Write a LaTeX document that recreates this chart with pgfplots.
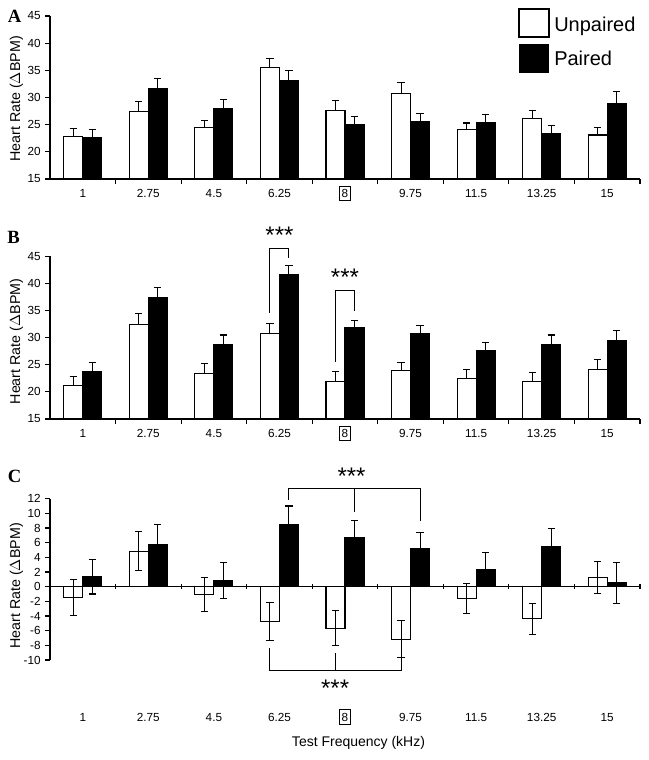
\documentclass[border=0pt]{standalone}
\usepackage{pgfplots}
\pgfplotsset{compat=1.18}
\usepackage{pgfplotstable}
\usepackage{fontspec}
\setmainfont{Liberation Sans}
\newfontfamily\serifbf{Liberation Serif}

\pgfplotstableread{
x u ue p pe
1 22.8 1.5 22.6 1.5
2 27.5 1.7 31.6 1.9
3 24.5 1.2 27.9 1.7
4 35.6 1.5 33.2 1.7
5 27.6 1.9 25.0 1.5
6 30.8 2.0 25.5 1.6
7 24.1 1.2 25.3 1.6
8 26.1 1.5 23.3 1.5
9 23.1 1.4 28.9 2.2
}\tabA

\pgfplotstableread{
x u ue p pe
1 21.1 1.8 23.8 1.6
2 32.4 2.0 37.4 1.8
3 23.4 1.8 28.7 1.8
4 30.8 1.9 41.7 1.7
5 21.9 1.8 31.8 1.4
6 23.9 1.6 30.7 1.5
7 22.5 1.6 27.7 1.5
8 21.9 1.7 28.7 1.8
9 24.2 1.7 29.4 2.0
}\tabB

\pgfplotstableread{
x u ue p pe
1 -1.5 2.45 1.35 2.35
2 4.85 2.65 5.8 2.7
3 -1.05 2.35 0.8 2.45
4 -4.75 2.55 8.5 2.5
5 -5.65 2.4 6.65 2.4
6 -7.15 2.5 5.15 2.3
7 -1.6 2.05 2.4 2.3
8 -4.4 2.1 5.5 2.4
9 1.25 2.2 0.5 2.75
}\tabC

\newcommand{\boxeight}{{\fboxsep=2pt\fboxrule=0.7pt\framebox[8.5pt]{8}}}

\tikzset{stars/.style={font=\fontsize{18}{18}\selectfont, inner sep=0pt}}

\pgfplotsset{
  base/.style={
    scale only axis, width=442.5pt, xmin=0.5, xmax=9.5,
    clip mode=individual,
    every tick/.style={line width=0.8pt, black},
    major tick length=3.5pt,
    xtick={1.5,2.5,...,9.5}, xticklabel={\mbox{}},
    extra x ticks={1,2,3,4,5,6,7,8,9},
    extra x tick labels={1,2.75,4.5,6.25,\boxeight,9.75,11.5,13.25,15},
    tick label style={font=\fontsize{8.8}{10}\selectfont},
    /pgf/number format/assume math mode=true,
    ybar, bar width=14.25pt,
  },
  noarrows/.style={axis line style={line width=0.8pt,-},
    every outer x axis line/.append style={-},
    every outer y axis line/.append style={-},
    every inner x axis line/.append style={-},
    every inner y axis line/.append style={-}},
  unp/.style={draw=black, fill=white, line width=0.8pt, bar shift=-7.125pt},
  pai/.style={draw=black, fill=black, line width=0.8pt, bar shift=7.125pt},
  eb/.style={error bars/.cd, y dir=#1, y explicit, error mark=-,
    error bar style={line width=0.8pt, black},
    error mark options={rotate=90, line width=0.8pt, mark size=2.7pt, black}},
}

\begin{document}
\begin{tikzpicture}[x=0.75pt,y=0.75pt]
\useasboundingbox (0,0) rectangle (649,760);

% ---------- Panel A
\begin{axis}[base, at={(37.5pt,435.75pt)}, anchor=south west, height=122.25pt,
  axis x line=bottom, axis y line=left, tick align=outside, noarrows,
  ymin=15, ymax=45, ytick={15,20,...,45},
  extra x tick style={major tick length=0pt, xticklabel style={anchor=base, yshift=-13.8pt}}]
\addplot[unp, eb=plus] table[x=x, y=u, y error=ue] {\tabA};
\addplot[pai, eb=plus] table[x=x, y=p, y error=pe] {\tabA};
\end{axis}

% ---------- Panel B
\begin{axis}[base, at={(37.5pt,255.75pt)}, anchor=south west, height=121.9pt,
  axis x line=bottom, axis y line=left, tick align=outside, noarrows,
  ymin=15, ymax=45, ytick={15,20,...,45},
  extra x tick style={major tick length=0pt, xticklabel style={anchor=base, yshift=-13.8pt}}]
\addplot[unp, eb=plus] table[x=x, y=u, y error=ue] {\tabB};
\addplot[pai, eb=plus] table[x=x, y=p, y error=pe] {\tabB};
\draw[line width=0.8pt] (axis cs:3.855,34.6) -- (axis cs:3.855,46.4) -- (axis cs:4.145,46.4) -- (axis cs:4.145,44.8);
\node[stars] at (axis cs:4,48.9) {***};
\draw[line width=0.8pt] (axis cs:4.855,25.6) -- (axis cs:4.855,38.8) -- (axis cs:5.145,38.8) -- (axis cs:5.145,35.0);
\node[stars] at (axis cs:5,41.1) {***};
\end{axis}

% ---------- Panel C
\begin{axis}[base, at={(37.5pt,75pt)}, anchor=south west, height=121pt,
  axis x line=middle, axis y line=left, tick align=outside, xtick align=center, noarrows,
  ymin=-10, ymax=12, ytick={-10,-8,...,12},
  yticklabels={-10,-8,-6,-4,-2,0,2,4,6,8,10,12},
  extra x tick style={major tick length=0pt, xticklabel style={anchor=base, yshift=-100.9pt}}]
\addplot[unp, eb=both] table[x=x, y=u, y error=ue] {\tabC};
\addplot[pai, eb=both] table[x=x, y=p, y error=pe] {\tabC};
\draw[line width=0.8pt] (axis cs:4.145,11.8) -- (axis cs:4.145,13.4) -- (axis cs:6.145,13.4) -- (axis cs:6.145,9.0);
\draw[line width=0.8pt] (axis cs:5.145,13.4) -- (axis cs:5.145,10.2);
\node[stars] at (axis cs:5.1,15.1) {***};
\draw[line width=0.8pt] (axis cs:3.855,-8.4) -- (axis cs:3.855,-11.4) -- (axis cs:5.855,-11.4) -- (axis cs:5.855,-9.6);
\draw[line width=0.8pt] (axis cs:4.855,-11.4) -- (axis cs:4.855,-9.0);
\node[stars] at (axis cs:4.85,-13.9) {***};
\end{axis}

% ---------- labels
\node[font=\serifbf\bfseries\fontsize{14}{14}\selectfont] at (14.5,744) {A};
\node[font=\serifbf\bfseries\fontsize{14}{14}\selectfont] at (13.5,522.5) {B};
\node[font=\serifbf\bfseries\fontsize{14}{14}\selectfont] at (14.5,284) {C};
\foreach \yy in {661,418.5,174}{
  \node[rotate=90, font=\fontsize{10.7}{12}\selectfont] at (16.5,\yy) {Heart Rate ($\Delta$BPM)};
}
\node[font=\fontsize{10.5}{12}\selectfont] at (358.5,17) {Test Frequency (kHz)};

% ---------- legend
\draw[line width=0.8pt, fill=white] (519,723) rectangle (549,751);
\fill[black] (519,687) rectangle (549,716);
\node[anchor=base west, font=\fontsize{15}{16}\selectfont, inner sep=0pt] at (554,728.3) {Unpaired};
\node[anchor=base west, font=\fontsize{15}{16}\selectfont, inner sep=0pt] at (554,694.3) {Paired};
\end{tikzpicture}
\end{document}
